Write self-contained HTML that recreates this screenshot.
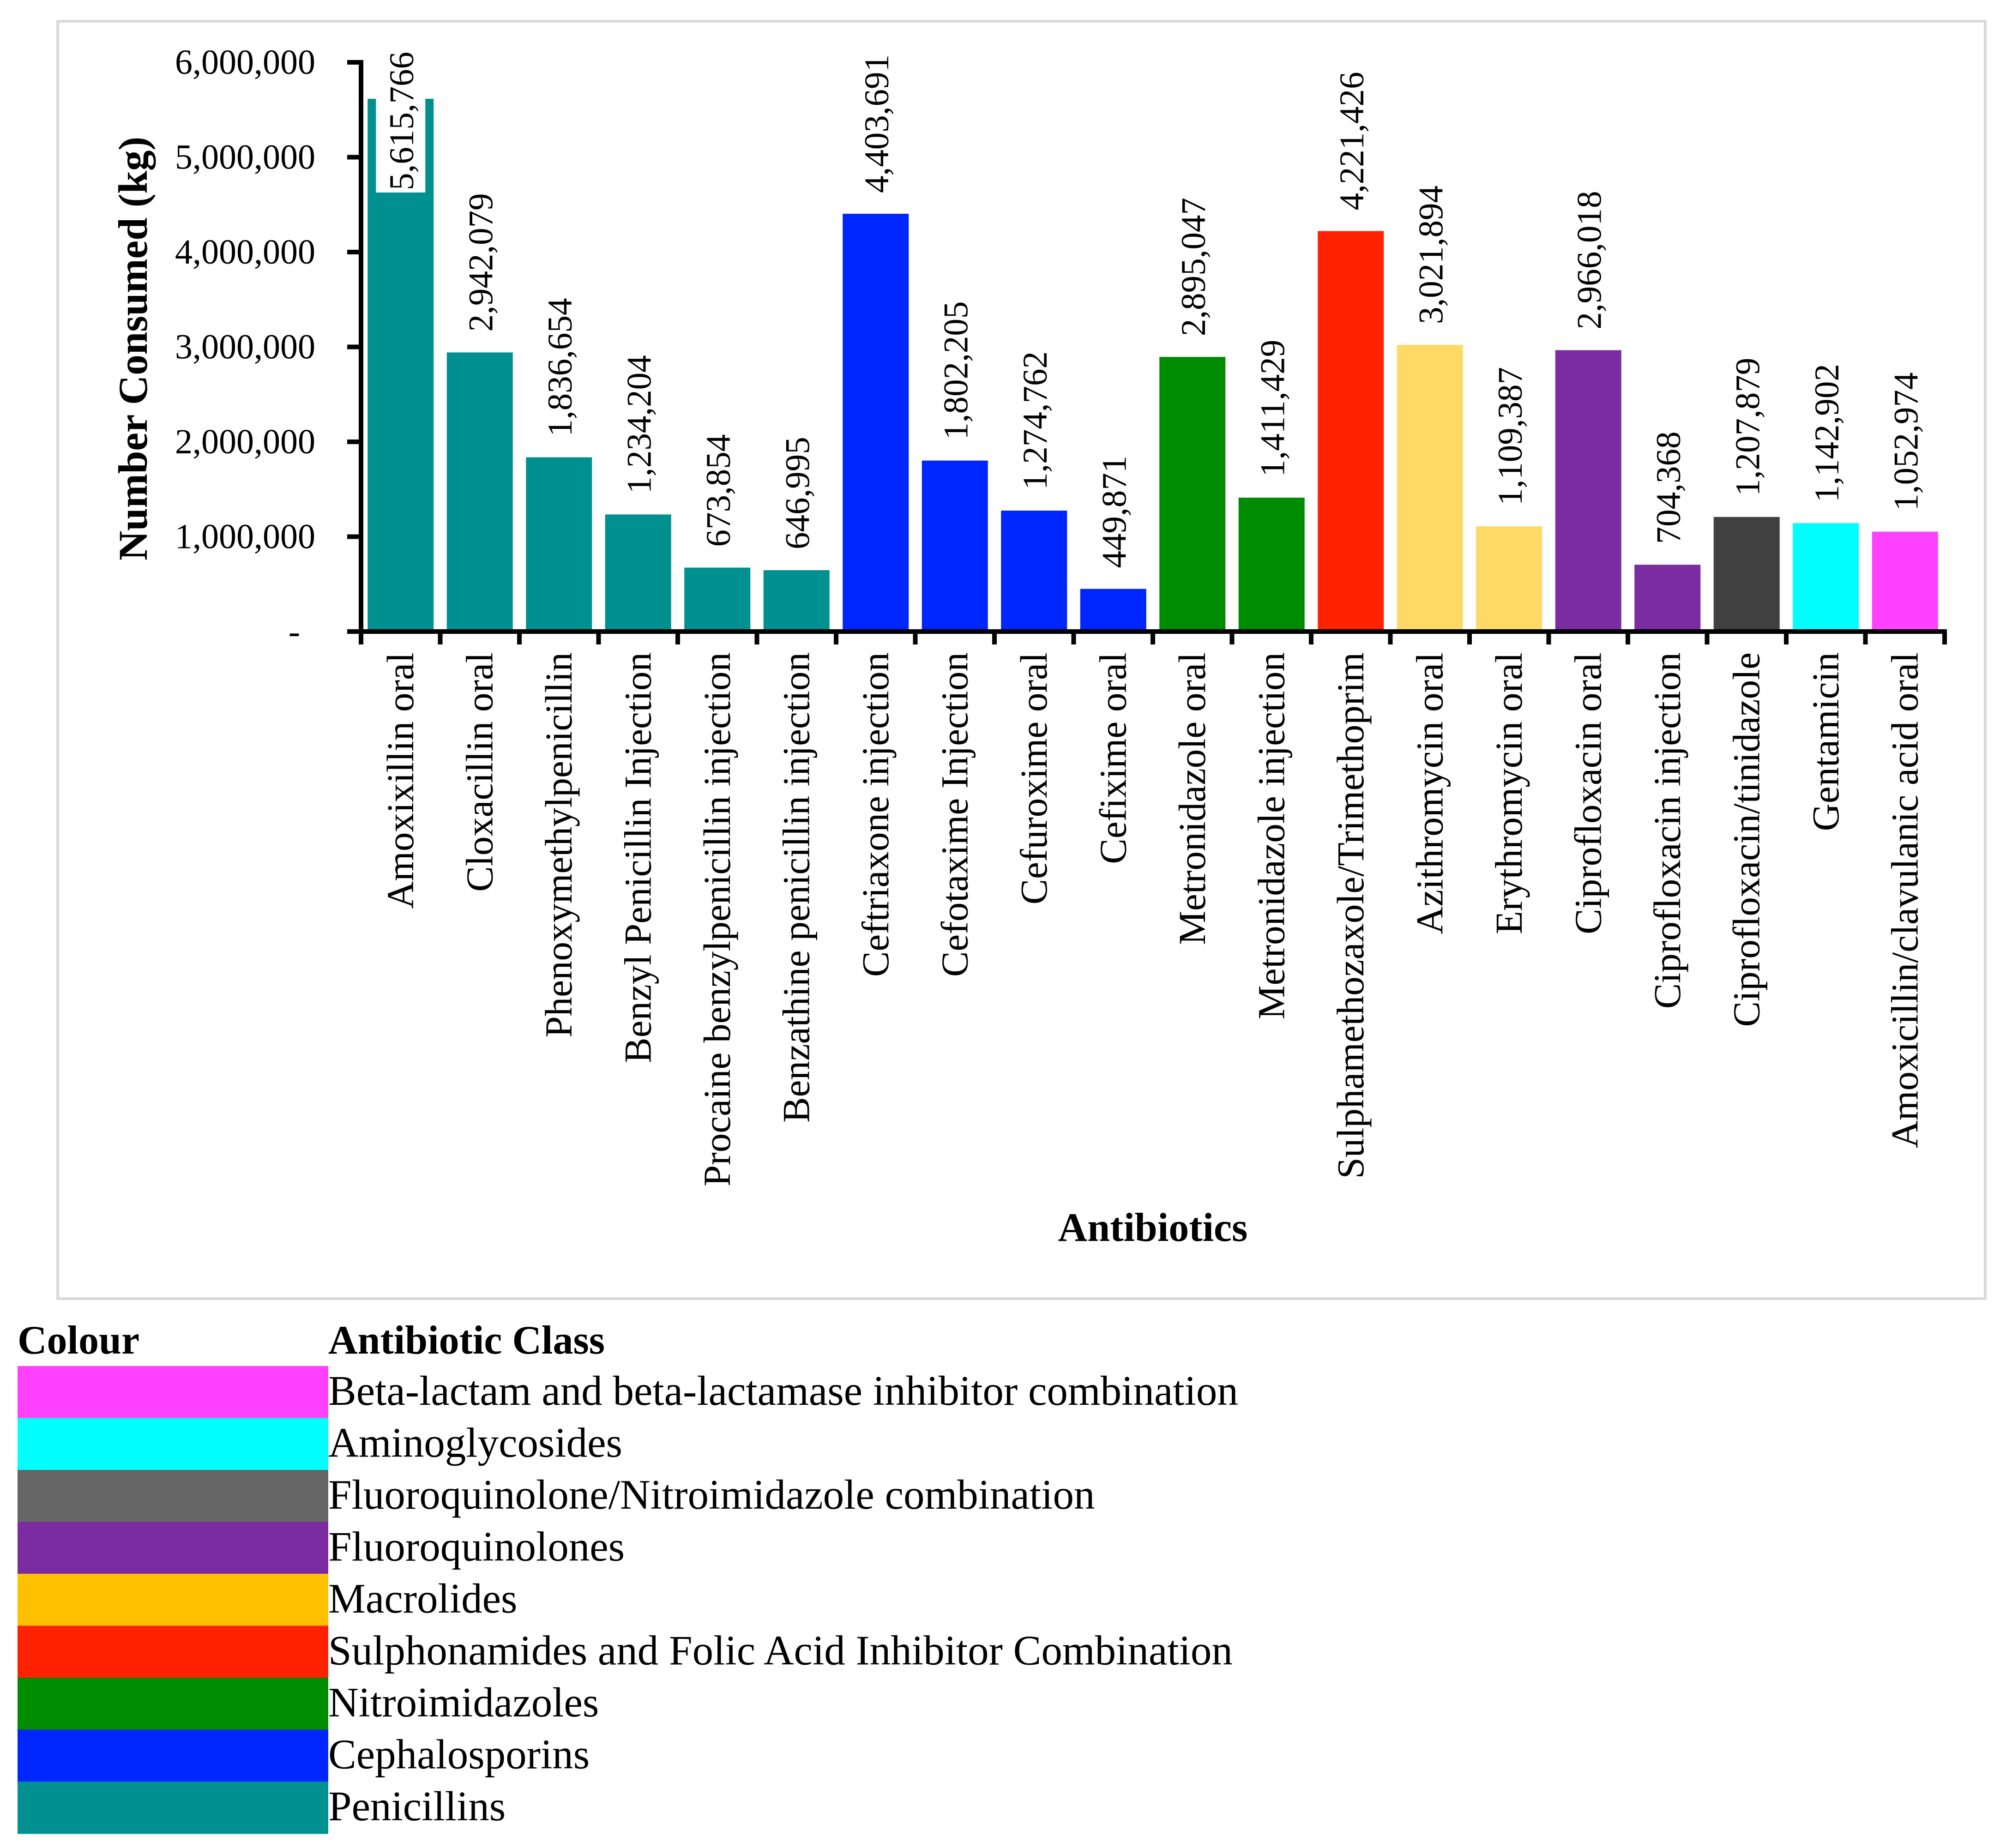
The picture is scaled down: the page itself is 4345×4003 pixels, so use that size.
<!DOCTYPE html>
<html><head><meta charset="utf-8"><style>
html,body{margin:0;padding:0;background:#fff;}
svg{display:block;font-family:"Liberation Serif",serif;}
</style></head><body>
<svg id="chart" width="4345" height="4003" viewBox="0 0 4345 4003" xmlns="http://www.w3.org/2000/svg">
<rect x="125" y="46" width="4175" height="2767" fill="#fff" stroke="#d9d9d9" stroke-width="6"/>
<g id="plot"></g>
<text transform="translate(318,755) rotate(-90)" text-anchor="middle" font-size="89" font-weight="bold">Number Consumed (kg)</text>
<text x="2497" y="2688" text-anchor="middle" font-size="88" font-weight="bold">Antibiotics</text>
<g id="legend"></g>
</svg>
<script>
const categories=["Amoxixillin oral","Cloxacillin oral","Phenoxymethylpenicillin","Benzyl Penicillin Injection","Procaine benzylpenicillin injection","Benzathine penicillin injection","Ceftriaxone injection","Cefotaxime Injection","Cefuroxime oral","Cefixime oral","Metronidazole oral","Metronidazole injection","Sulphamethozaxole/Trimethoprim","Azithromycin oral","Erythromycin oral","Ciprofloxacin oral","Ciprofloxacin injection","Ciprofloxacin/tinidazole","Gentamicin","Amoxicillin/clavulanic acid oral"];
const values=[5615766,2942079,1836654,1234204,673854,646995,4403691,1802205,1274762,449871,2895047,1411429,4221426,3021894,1109387,2966018,704368,1207879,1142902,1052974];
const barColors=["#009090","#009090","#009090","#009090","#009090","#009090","#0026FF","#0026FF","#0026FF","#0026FF","#008C00","#008C00","#FF2200","#FFD966","#FFD966","#7B2CA0","#7B2CA0","#404040","#00FFFF","#FF40FF"];
const yTicks=[0,1000000,2000000,3000000,4000000,5000000,6000000];
const legendLabels=["Beta-lactam and beta-lactamase inhibitor combination","Aminoglycosides","Fluoroquinolone/Nitroimidazole combination","Fluoroquinolones","Macrolides","Sulphonamides and Folic Acid Inhibitor Combination","Nitroimidazoles","Cephalosporins","Penicillins"];
const legendColors=["#FF40FF","#00FFFF","#666666","#7B2CA0","#FFC000","#FF2200","#008C00","#0026FF","#009090"];

const NS="http://www.w3.org/2000/svg";
const X0=782,X1=4212,Y0=1368,YT=135,YMAX=6000000;
const band=(X1-X0)/categories.length;
const bw=143;
function y(v){return Y0-(v/YMAX)*(Y0-YT);}
function bx(i){return X0+i*band+(band-bw)/2;}
function fmt(v){return v===0?"-":v.toLocaleString("en-US");}
function mk(tag,attrs,parent){const e=document.createElementNS(NS,tag);for(const k in attrs)e.setAttribute(k,attrs[k]);parent.appendChild(e);return e;}
const plot=document.getElementById("plot");

values.forEach((v,i)=>{
  const b=mk("rect",{x:bx(i),y:y(v),width:bw,height:Y0-y(v),fill:barColors[i]},plot);
  
  
  const cx=bx(i)+bw/2;
  let endY=y(v)-45;
  const estLen=fmt(v).length*38;
  if(endY-estLen<40){
    endY=412;
    const bg=mk("rect",{x:bx(i)+18,y:y(v),width:bw-36,height:endY-y(v)+5,fill:"#fff"},plot);
    
    
  }
  const t=mk("text",{transform:`translate(${cx+27},${endY}) rotate(-90)`,"font-size":"75","text-anchor":"start"},plot);
  
  
  t.textContent=fmt(v);
  const l=mk("text",{transform:`translate(${cx+27},${Y0+45}) rotate(-90)`,"font-size":"83","text-anchor":"end"},plot);
  
  
  l.textContent=categories[i];
});
yTicks.forEach(v=>{
  const tk=mk("line",{x1:X0-30,x2:X0,y1:y(v),y2:y(v),stroke:"#000","stroke-width":10},plot);
  
  
  const t=mk("text",{x:v===0?650:683,y:y(v)+25,"font-size":"76","text-anchor":"end"},plot);
  
  
  t.textContent=fmt(v);
});
for(let i=0;i<=categories.length;i++){
  const tk=mk("line",{x1:X0+i*band,x2:X0+i*band,y1:Y0,y2:Y0+28,stroke:"#000","stroke-width":10},plot);
  
  
}
const ya=mk("line",{x1:X0,x2:X0,y1:YT-5,y2:Y0+5,stroke:"#000","stroke-width":10},plot);


const xa=mk("line",{x1:X0-30,x2:X1+5,y1:Y0,y2:Y0,stroke:"#000","stroke-width":10},plot);



const lg=document.getElementById("legend");
const h1=mk("text",{x:38,y:2932,"font-size":"88","font-weight":"bold"},lg);


h1.textContent="Colour";
const h2=mk("text",{x:711,y:2932,"font-size":"88","font-weight":"bold"},lg);


h2.textContent="Antibiotic Class";
const RT=2959,RH=112.5;
legendLabels.forEach((s,i)=>{
  const r=mk("rect",{x:38,y:RT+i*RH,width:673,height:RH+1,fill:legendColors[i]},lg);
  
  
  const t=mk("text",{x:711,y:RT+i*RH+84,"font-size":"91"},lg);
  
  
  t.textContent=s;
});
</script>
</body></html>
